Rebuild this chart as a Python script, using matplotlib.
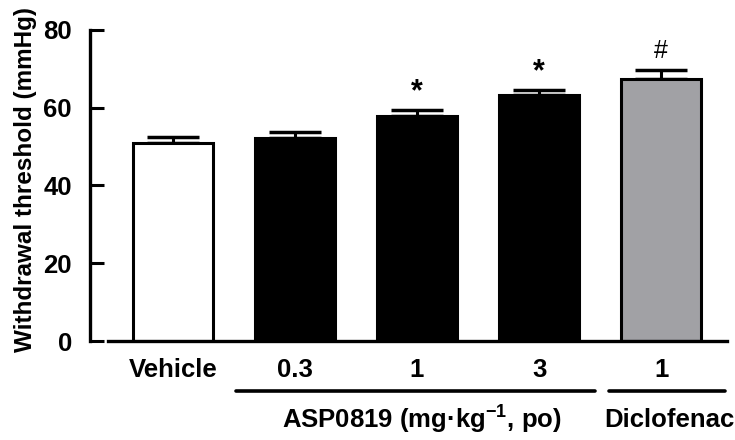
import matplotlib
matplotlib.use("Agg")
import matplotlib.pyplot as plt

plt.rcParams['font.family'] = ['Liberation Sans', 'DejaVu Sans']
plt.rcParams['mathtext.fontset'] = 'custom'
plt.rcParams['mathtext.rm'] = 'Liberation Sans:bold'
plt.rcParams['mathtext.bf'] = 'Liberation Sans:bold'
plt.rcParams['mathtext.default'] = 'bf'

# data
groups = ["Vehicle", "0.3", "1", "3", "1"]
means = [50.9, 52.2, 58.0, 63.3, 67.3]
sems = [1.5, 1.5, 1.3, 1.2, 2.5]
colors = ["white", "black", "black", "black", "#a1a1a5"]
marks = ["", "", "*", "*", "#"]

fig = plt.figure(figsize=(7.35, 4.4), dpi=100)
ax = fig.add_axes([90 / 735, 1 - 341 / 440, (727 - 90) / 735, 311 / 440])

xs = list(range(len(groups)))
ax.bar(xs, means, width=0.65, color=colors, edgecolor="black", linewidth=2.2, zorder=2)
ax.errorbar(xs, means, yerr=[[0] * len(sems), sems], fmt="none", ecolor="black",
            elinewidth=2.2, capsize=19, capthick=2.5, zorder=1)

for x, m, s, mk in zip(xs, means, sems, marks):
    if mk == "*":
        ax.text(x, m + s + 0.8, mk, ha="center", va="bottom", fontsize=22, fontweight="bold")
    elif mk == "#":
        ax.text(x, m + s + 1.8, mk, ha="center", va="bottom", fontsize=18)

ax.set_xlim(-0.68, 4.54)
ax.set_ylim(0, 80)
ax.set_yticks([0, 20, 40, 60, 80])
ax.tick_params(axis="y", direction="in", length=10, width=2.2, labelsize=18.5, pad=13)
for lab in ax.get_yticklabels():
    lab.set_fontweight("bold")
ax.set_xticks(xs)
ax.set_xticklabels(groups, fontsize=18.5, fontweight="bold")
ax.tick_params(axis="x", length=0, pad=12)

ax.spines["top"].set_visible(False)
ax.spines["right"].set_visible(False)
ax.spines["left"].set_linewidth(2.4)
ax.spines["bottom"].set_linewidth(2.4)
ax.spines["bottom"].set_bounds(-0.53, 4.54)

ax.set_ylabel("Withdrawal threshold (mmHg)", fontsize=17.5, fontweight="bold")
ax.yaxis.set_label_coords(-0.083, 0.52)

# group lines
ax.plot([0.516, 3.46], [-12.8, -12.8], color="black", lw=2.6, clip_on=False, solid_capstyle="round")
ax.plot([3.57, 4.52], [-12.8, -12.8], color="black", lw=2.6, clip_on=False, solid_capstyle="round")
ax.text(2.04, -20.3, "ASP0819 (mg\u00b7kg$^{-1}$, po)", ha="center", va="center",
        fontsize=18.5, fontweight="bold")
ax.text(4.07, -20.3, "Diclofenac", ha="center", va="center", fontsize=18.5, fontweight="bold")

fig.savefig("out.png", dpi=100)
